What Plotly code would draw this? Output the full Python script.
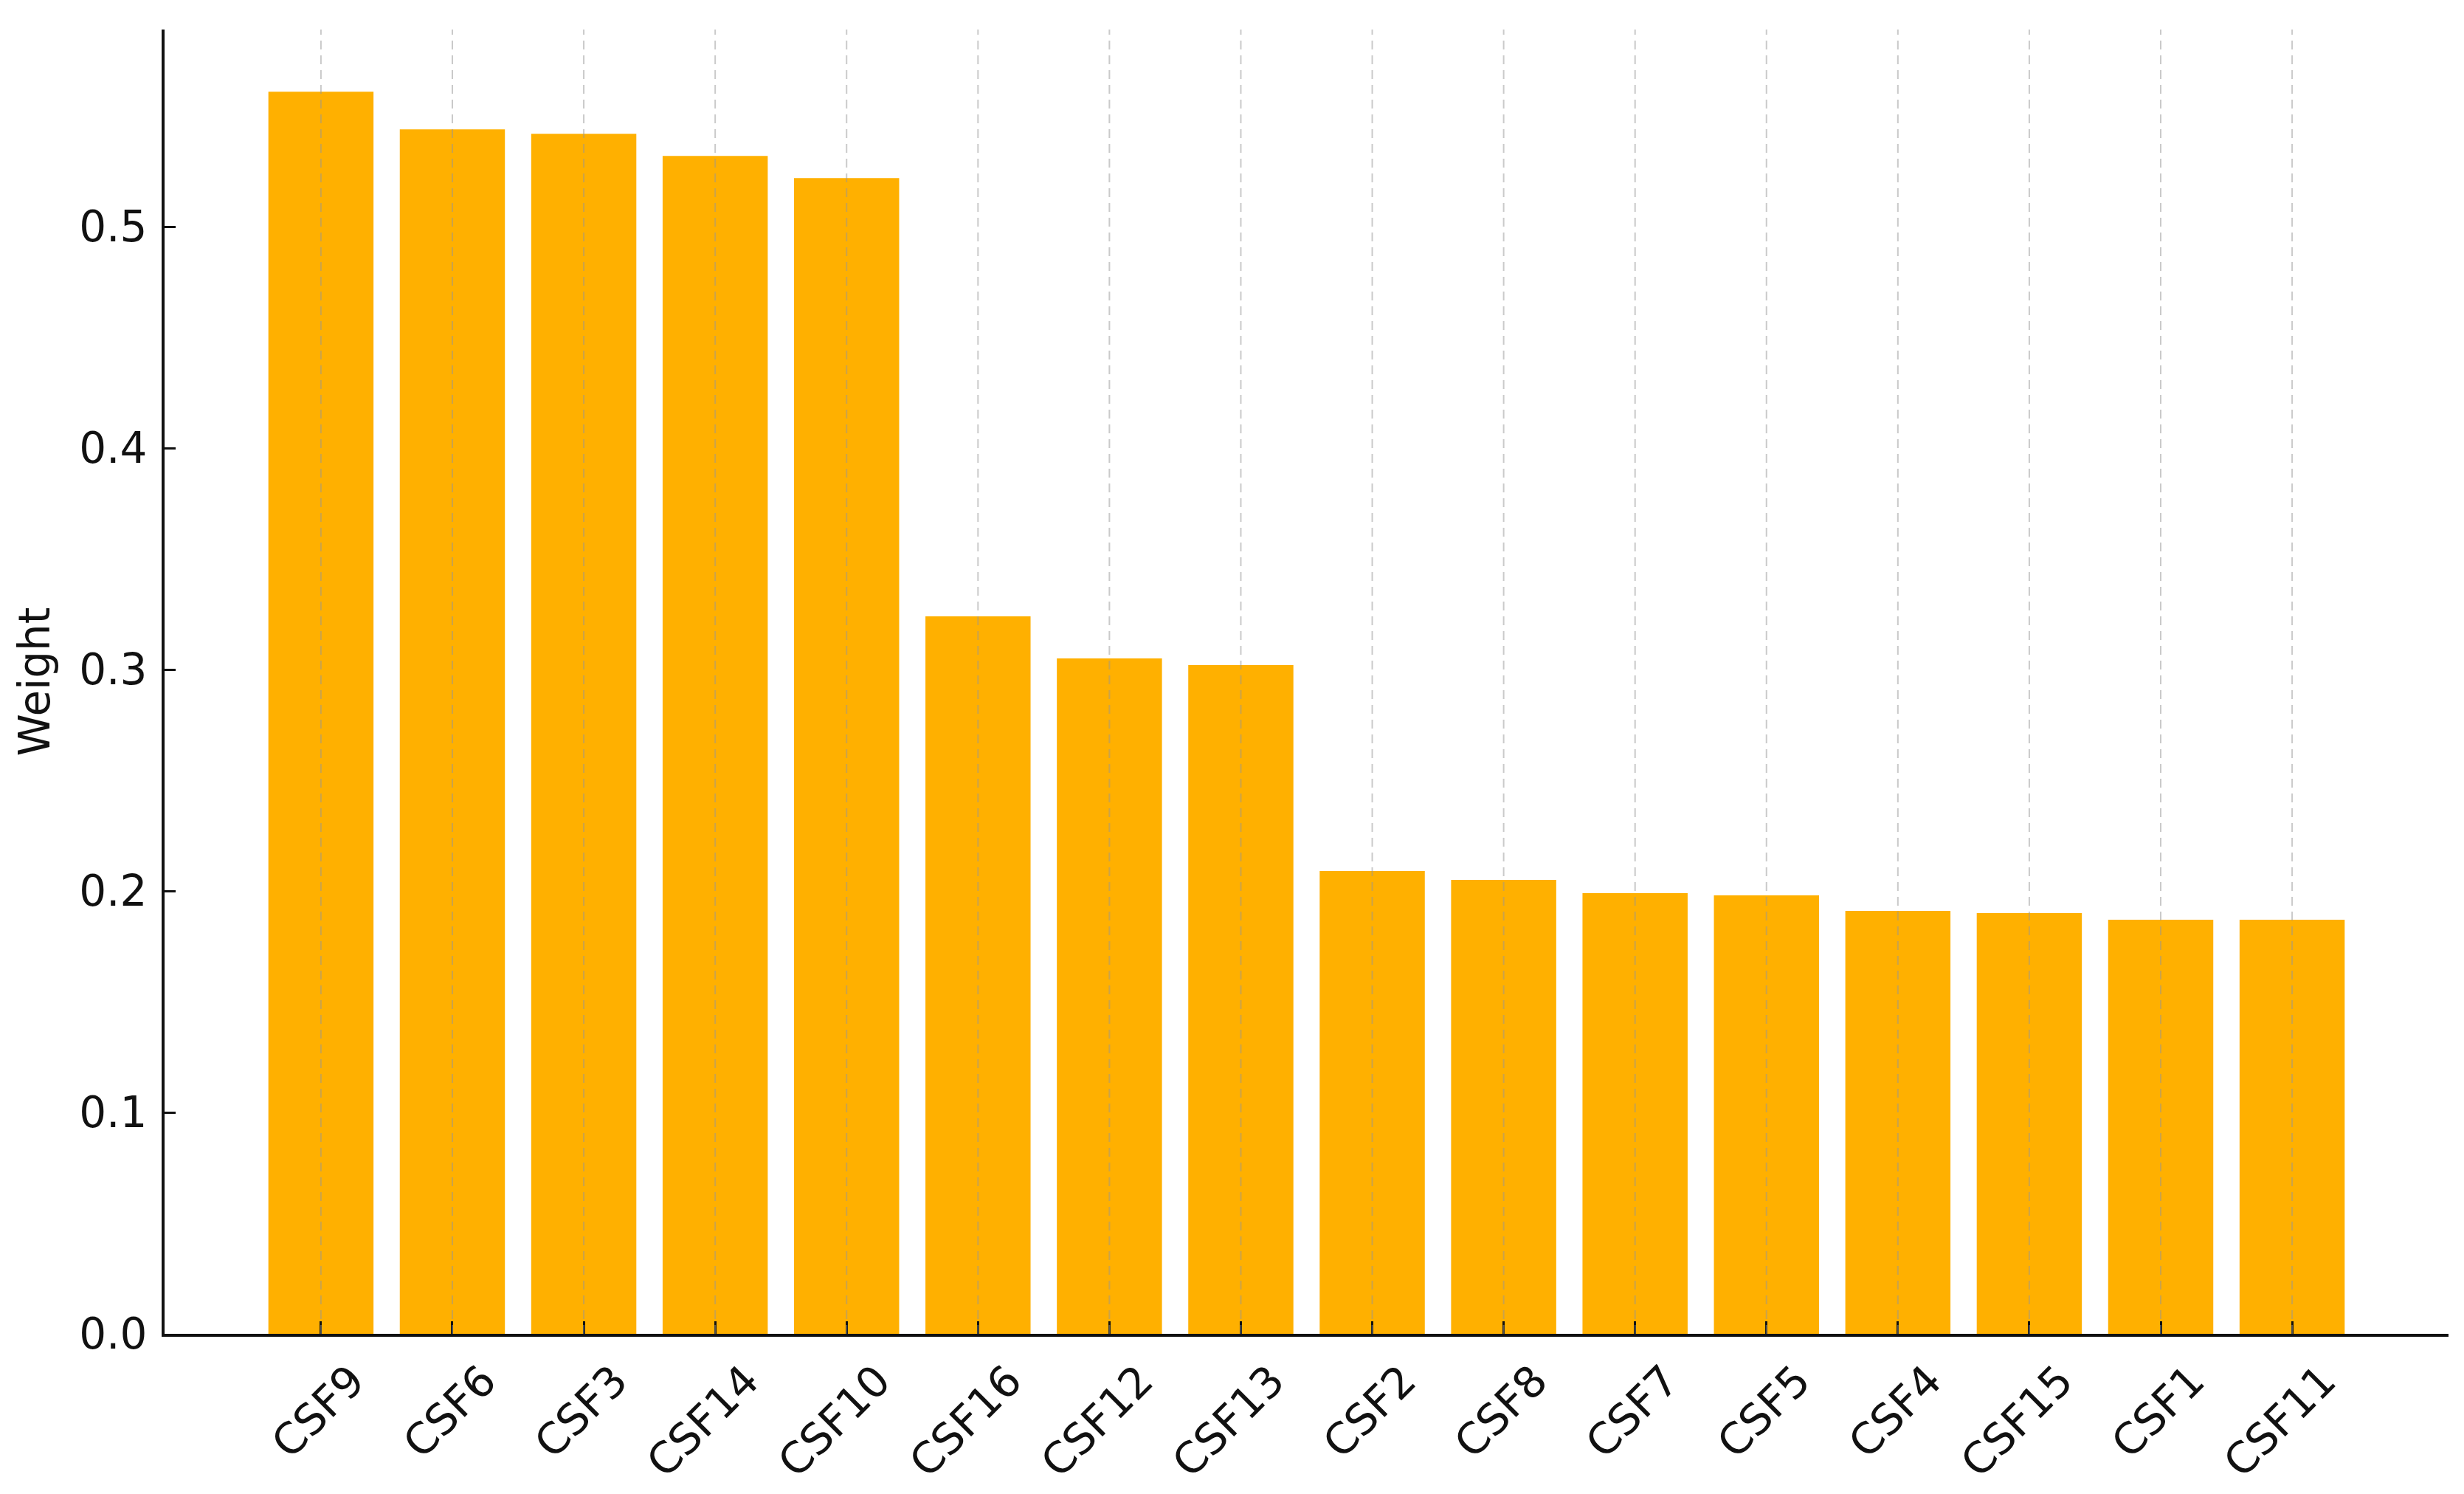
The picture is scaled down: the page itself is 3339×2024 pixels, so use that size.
import plotly.graph_objects as go

categories = ["CSF9", "CSF6", "CSF3", "CSF14", "CSF10", "CSF16", "CSF12", "CSF13",
              "CSF2", "CSF8", "CSF7", "CSF5", "CSF4", "CSF15", "CSF1", "CSF11"]
weights = [0.561, 0.544, 0.542, 0.532, 0.522, 0.324, 0.305, 0.302,
           0.209, 0.205, 0.199, 0.198, 0.191, 0.190, 0.187, 0.187]
y_ticks = [0.0, 0.1, 0.2, 0.3, 0.4, 0.5]

BAR = "#FFB000"
FONT = "DejaVu Sans"
FS = 58
INK = "#111111"

fig = go.Figure()
fig.add_trace(go.Bar(x=categories, y=weights, marker_color=BAR,
                     marker_line_width=0, width=0.8))

# dashed vertical gridlines drawn above the bars (as in the reference)
for c in categories:
    fig.add_shape(type="line", xref="x", yref="paper", x0=c, x1=c, y0=0, y1=1,
                  line=dict(color="rgba(150,150,150,0.5)", width=2, dash="12px,8px"),
                  layer="above")

n = len(categories)
ymax = max(weights) * 1.05

fig.update_layout(
    width=3339, height=2024,
    margin=dict(l=215, r=29, t=32, b=225),
    paper_bgcolor="white", plot_bgcolor="white",
    font=dict(family=FONT, size=FS, color=INK),
    showlegend=False,
    bargap=0.2,
)
fig.update_xaxes(
    type="category", range=[-0.4 - 0.05 * (n - 0.2), n - 0.6 + 0.05 * (n - 0.2)],
    showgrid=False, showline=True, linecolor=INK, linewidth=4,
    ticks="inside", ticklen=17, tickwidth=3, tickcolor=INK,
    tickangle=-45, tickfont=dict(family=FONT, size=FS, color=INK),
    ticklabelshift=42, ticklabelstandoff=2, zeroline=False,
)
fig.update_yaxes(
    range=[0, ymax], tickvals=y_ticks, ticktext=[f"{v:.1f}" for v in y_ticks],
    showgrid=False, showline=True, linecolor=INK, linewidth=4,
    ticks="inside", ticklen=15, tickwidth=3, tickcolor=INK,
    tickfont=dict(family=FONT, size=FS, color=INK),
    ticklabelstandoff=8,
    zeroline=False,
    title=dict(text="Weight", font=dict(family=FONT, size=FS, color=INK), standoff=22),
)

fig.write_html("out.html")
